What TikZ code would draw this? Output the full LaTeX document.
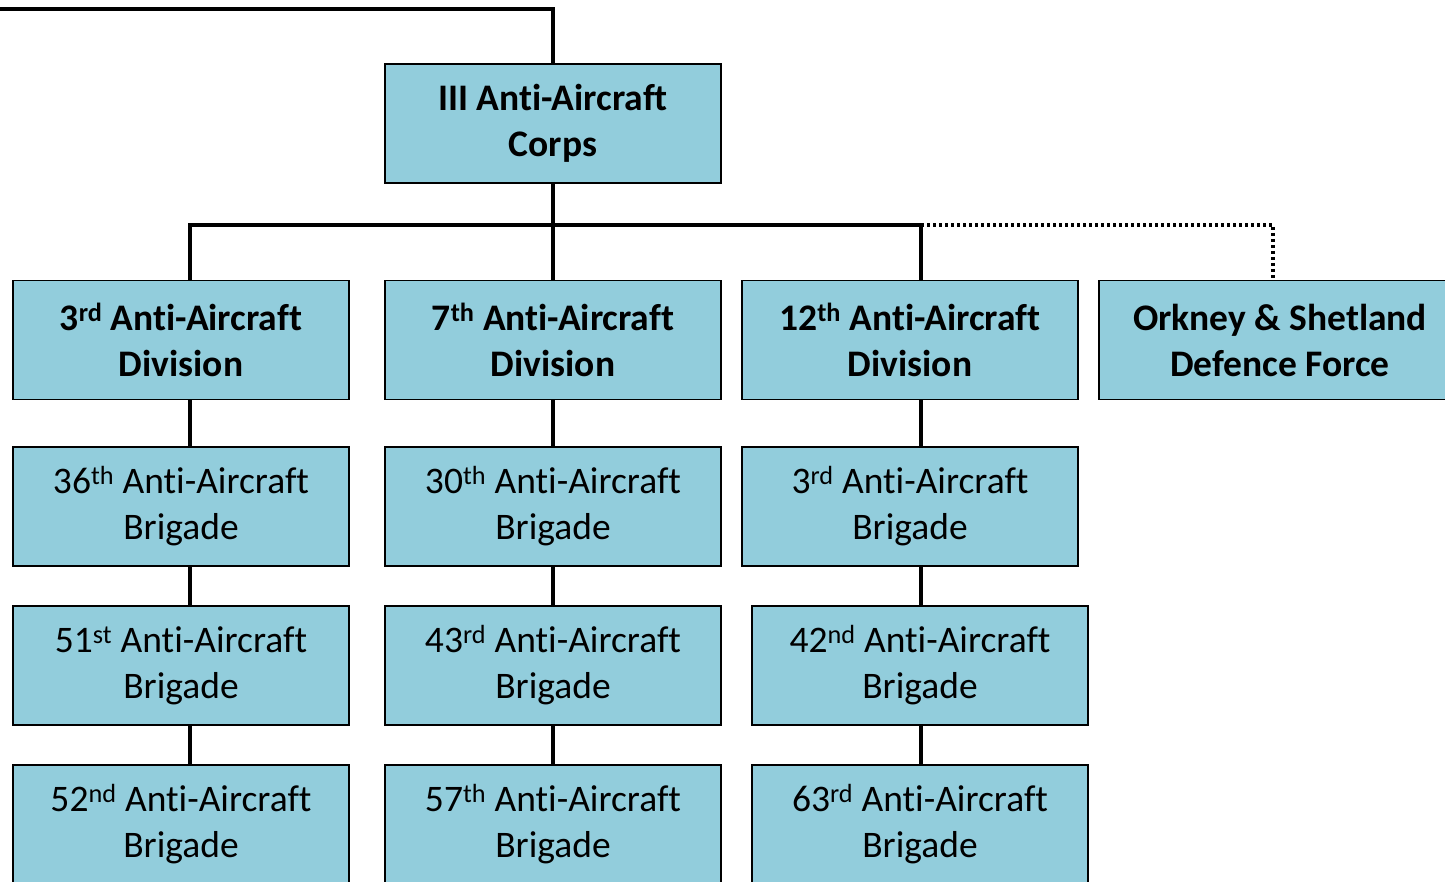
\documentclass[tikz,border=0pt]{standalone}
\usepackage{fontspec}
\setmainfont{Carlito}[Ligatures=NoCommon]
\usepackage{tikz}
\usetikzlibrary{positioning,calc}
\definecolor{unitblue}{HTML}{92CDDC}

\begin{document}
\begin{tikzpicture}[x=1pt,y=-1pt,
	unit/.style={draw=black, line width=1.6pt, fill=unitblue, align=center, minimum width=336pt, minimum height=119pt, inner sep=0pt, font=\fontsize{37.5}{46}\selectfont},
	hq/.style={unit, font=\fontsize{37.5}{46}\selectfont\bfseries},
	link/.style={line width=3.2pt},
	attached/.style={line width=3.2pt, dash pattern=on 3pt off 3pt}
	]
	\useasboundingbox (0,0) rectangle (1445,882);
	\clip (0,0) rectangle (1445,882);
	\node[hq] (corps) at (553,123.5) {III Anti-Aircraft\\Corps};
	\node[hq] (d3) at (181,340) {3\textsuperscript{rd} Anti-Aircraft\\Division};
	\node[hq] (d7) at (553,340) {7\textsuperscript{th} Anti-Aircraft\\Division};
	\node[hq] (d12) at (910,340) {12\textsuperscript{th} Anti-Aircraft\\Division};
	\node[hq, minimum width=362pt] (osdf) at (1280,340) {Orkney \& Shetland\\Defence Force};
	\node[unit] (b36) at (181,506.5) {36\textsuperscript{th} Anti-Aircraft\\Brigade};
	\node[unit] (b51) at (181,665.5) {51\textsuperscript{st} Anti-Aircraft\\Brigade};
	\node[unit] (b52) at (181,824.5) {52\textsuperscript{nd} Anti-Aircraft\\Brigade};
	\node[unit] (b30) at (553,506.5) {30\textsuperscript{th} Anti-Aircraft\\Brigade};
	\node[unit] (b43) at (553,665.5) {43\textsuperscript{rd} Anti-Aircraft\\Brigade};
	\node[unit] (b57) at (553,824.5) {57\textsuperscript{th} Anti-Aircraft\\Brigade};
	\node[unit] (b3) at (910,506.5) {3\textsuperscript{rd} Anti-Aircraft\\Brigade};
	\node[unit] (b42) at (920,665.5) {42\textsuperscript{nd} Anti-Aircraft\\Brigade};
	\node[unit] (b63) at (920,824.5) {63\textsuperscript{rd} Anti-Aircraft\\Brigade};
	\coordinate (up) at (0,9);
	\coordinate (bus) at (553,225);
	% corps and its divisions
	\draw[link] (up) -| (corps.north);
	\draw[link] (corps.south) -- (bus);
	\draw[link] ([xshift=9pt]d3.north) |- (bus) -| ([xshift=11pt]d12.north);
	\draw[link] (bus) -- (d7.north);
	\draw[attached] ([xshift=11pt]d12.north |- bus) -| ([xshift=-7pt]osdf.north);
	% brigades
	\draw[link] ([xshift=9pt]d3.south) -- ([xshift=9pt]b36.north);
	\draw[link] ([xshift=9pt]b36.south) -- ([xshift=9pt]b51.north);
	\draw[link] ([xshift=9pt]b51.south) -- ([xshift=9pt]b52.north);
	\draw[link] (d7) -- (b30);
	\draw[link] (b30) -- (b43);
	\draw[link] (b43) -- (b57);
	\draw[link] ([xshift=11pt]d12.south) -- ([xshift=11pt]b3.north);
	\draw[link] ([xshift=11pt]b3.south) -- ([xshift=1pt]b42.north);
	\draw[link] ([xshift=1pt]b42.south) -- ([xshift=1pt]b63.north);
\end{tikzpicture}
\end{document}
